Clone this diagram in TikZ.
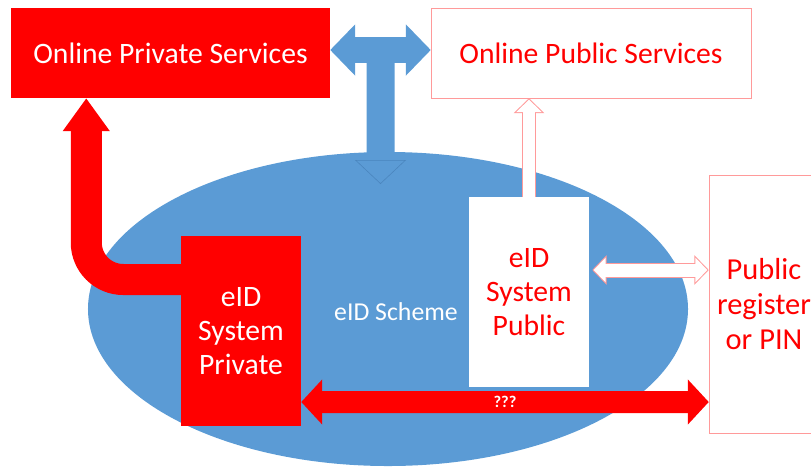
\documentclass[tikz,border=0pt]{standalone}
\usepackage{fontspec}
\setmainfont{Carlito}
\usetikzlibrary{arrows.meta,positioning,shapes.geometric,calc}
\definecolor{schemeblue}{HTML}{5B9BD5}
\definecolor{blueedge}{HTML}{4A85BD}
\definecolor{eidred}{HTML}{FF0000}
\definecolor{pubpink}{HTML}{FF9A9A}

\begin{document}
\begin{tikzpicture}[x=0.03cm,y=-0.03cm]
    \tikzstyle{every node}+=[inner sep=0pt]
    \tikzstyle{privbox}=[rectangle, fill=eidred, text=white, align=center, font=\fontsize{25.3}{29}\selectfont]
    \tikzstyle{pubbox}=[rectangle, draw=pubpink, fill=white, text=eidred, align=center, font=\fontsize{25.3}{29}\selectfont]
    \tikzstyle{bluearrow}=[draw=schemeblue]
    \tikzstyle{redarrow}=[draw=eidred]
    \tikzstyle{pinkrim}=[draw=pubpink]
    \tikzstyle{whitecore}=[draw=white]
    \useasboundingbox (0,0) rectangle (811,468);
    % the scheme
    \node[ellipse, fill=schemeblue, minimum width=18cm, minimum height=9.42cm] (scheme) at (388,309) {};
    \node[text=white, font=\fontsize{22}{26}\selectfont] (schemetxt) at (396,312) {eID Scheme};
    % services
    \node[privbox, minimum width=9.57cm, minimum height=2.7cm] (priv) at (170.5,53) {Online Private Services};
    \node[pubbox, minimum width=9.6cm, minimum height=2.7cm] (pub) at (591,53) {Online Public Services};
    % blue T
    \draw[bluearrow, line width=0.78cm, {Triangle[length=0.75cm,width=1.5cm]}-{Triangle[length=0.75cm,width=1.5cm]}] ([yshift=0.09cm]priv.east) -- ([yshift=0.09cm]pub.west);
    \coordinate (tee) at ($(priv.east)!0.5!(pub.west)$);
    \coordinate (teeend) at (380.5,184);
    \draw[bluearrow, line width=0.84cm, -{Triangle[length=0.72cm,width=1.53cm,fill=schemeblue,color=blueedge,line width=0.5pt]}] (tee) -- (teeend);
    % eID systems
    \node[privbox, minimum width=3.6cm, minimum height=5.7cm] (privid) at (241,331) {eID\\System\\Private};
    \node[pubbox, draw=none, minimum width=3.6cm, minimum height=5.7cm] (pubid) at (529,292) {eID\\System\\Public};
    \node[pubbox, minimum width=3.3cm, minimum height=7.74cm, font=\fontsize{26}{30}\selectfont] (reg) at (764,304) {Public\\register\\or PIN};
    % red bent arrow
    \draw[redarrow, line width=0.93cm, rounded corners=1.11cm, -{Triangle[length=0.99cm,width=1.35cm]}] ([xshift=0.36cm,yshift=1.545cm]privid.west) -| ([xshift=2.265cm]priv.south west);
    % white arrows
    \draw[pinkrim, line width=0.42cm, -{Triangle[length=0.45cm,width=0.9cm]}] (pubid.north) -- (pubid.north |- pub.south);
    \draw[whitecore, line width=0.36cm, shorten >=0.042cm, -{Triangle[length=0.378cm,width=0.756cm]}] (pubid.north) -- (pubid.north |- pub.south);
    \coordinate (wl) at ([xshift=0.09cm,yshift=0.66cm]pubid.east);
    \draw[pinkrim, line width=0.45cm, {Triangle[length=0.435cm,width=0.87cm]}-{Triangle[length=0.435cm,width=0.87cm]}] (wl) -- (wl -| reg.west);
    \draw[whitecore, line width=0.39cm, shorten <=0.042cm, shorten >=0.042cm, {Triangle[length=0.363cm,width=0.726cm]}-{Triangle[length=0.363cm,width=0.726cm]}] (wl) -- (wl -| reg.west);
    % ???
    \draw[redarrow, line width=0.66cm, {Triangle[length=0.63cm,width=1.32cm]}-{Triangle[length=0.63cm,width=1.32cm]}] ([yshift=-2.13cm]privid.east) -- node[text=white, font=\fontsize{14}{16}\selectfont\bfseries] (qq) {???} ([yshift=-2.94cm]reg.west);
\end{tikzpicture}
\end{document}
